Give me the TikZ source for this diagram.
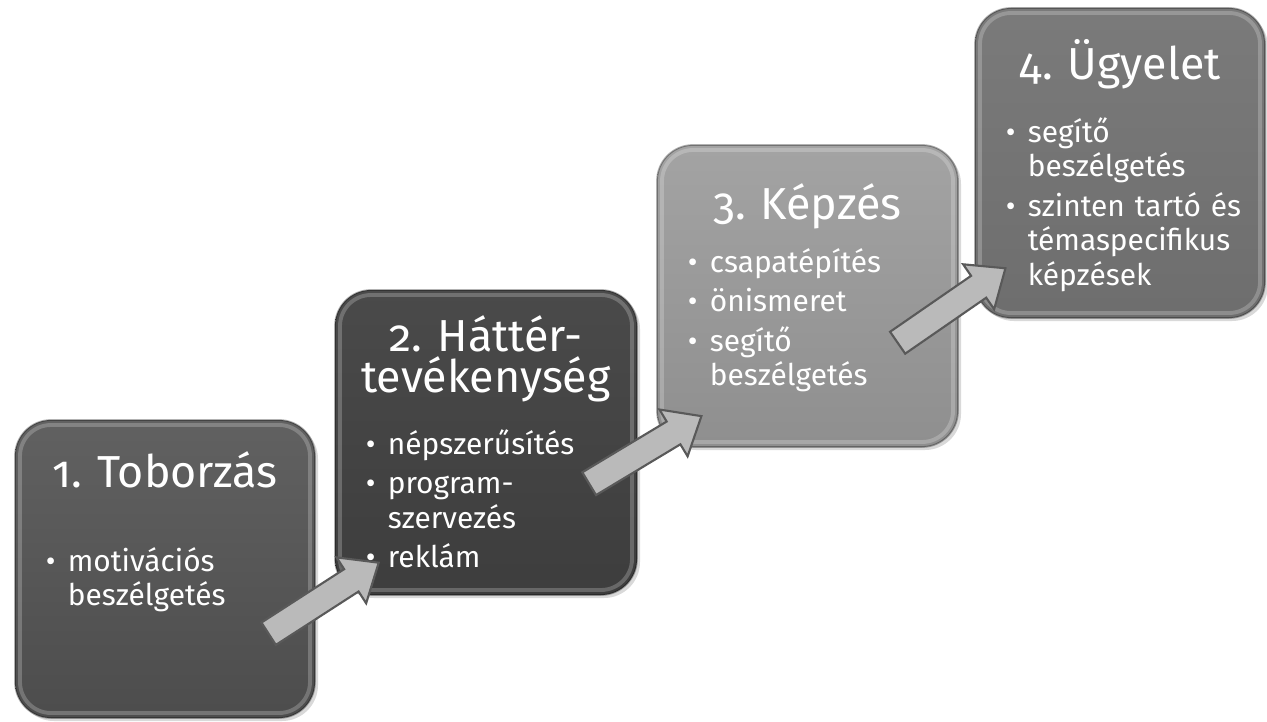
\documentclass[tikz,border=0pt]{standalone}
\usepackage{fontspec}
\setmainfont{Fira Sans}[Numbers=OldStyle]
\frenchspacing
\usepackage{tikz}
\usetikzlibrary{positioning, shapes.arrows, shadows}

\newcommand{\pont}{\makebox[0.44cm][l]{\textbullet}}
\newcommand{\tovabb}{\hspace*{0.44cm}}

\begin{document}
\begin{tikzpicture}[thick]

	\tikzset{
		stage/.style={
				rectangle, rounded corners=0.72cm, draw=black, draw opacity=0.3, line width=1pt, inner sep=0pt,
				drop shadow={shadow xshift=0.06cm, shadow yshift=-0.06cm, opacity=0.3},
				path picture={
						\draw[white, opacity=0.22, line width=2.2pt, rounded corners=0.62cm]
						([shift={(0.1,0.1)}]path picture bounding box.south west) rectangle
						([shift={(-0.1,-0.1)}]path picture bounding box.north east);
					}
			},
		stagetitle/.style={
				text=white, font=\fontsize{25.5}{23.3}\selectfont, text width=6cm, align=center, anchor=base, inner sep=0pt
			},
		stageitems/.style={
				text=white, font=\fontsize{17}{19.6}\selectfont, text width=5.5cm, align=left, anchor=base west, inner sep=0pt
			},
		blockarrow/.style={
				single arrow, draw=black!65, fill=black!27, line width=1.2pt, inner xsep=0pt, inner ysep=0.245cm,
				minimum height=2.62cm, single arrow head extend=0.28cm, single arrow tip angle=80
			},
	}

	\useasboundingbox (0,0) rectangle (25.34,14.42);

	\node[stage, top color=black!62, bottom color=black!70, minimum width=6cm, minimum height=5.96cm](b1) at (3.30,3.04){};
	\node[stage, top color=black!71, bottom color=black!76, minimum width=6.04cm, minimum height=6.1cm](b2) at (9.72,5.57){};
	\node[stage, top color=black!36, bottom color=black!44, minimum width=6.02cm, minimum height=6.04cm](b3) at (16.15,8.50){};
	\node[stage, top color=black!52, bottom color=black!57, minimum width=5.8cm, minimum height=6.2cm](b4) at (22.40,11.16){};

	\node[stagetitle](t1) at ([yshift=-1.36cm]b1.north){1. Toborzás};
	\node[stagetitle](t2) at ([yshift=-1.24cm]b2.north){2. Háttér-\\tevékenység};
	\node[stagetitle](t3) at ([yshift=-1.50cm]b3.north){3. Képzés};
	\node[stagetitle](t4) at ([yshift=-1.44cm]b4.north){4. Ügyelet};

	\node[stageitems](l1) at ([xshift=0.62cm, yshift=-3.04cm]b1.north west){\pont motivációs\\\tovabb beszélgetés};
	\node[stageitems](l2) at ([xshift=0.62cm, yshift=-3.30cm]b2.north west){\pont népszerűsítés\\[3pt]\pont program-\\\tovabb szervezés\\[3pt]\pont reklám};
	\node[stageitems](l3) at ([xshift=0.62cm, yshift=-2.56cm]b3.north west){\pont csapatépítés\\[3pt]\pont önismeret\\[3pt]\pont segítő\\\tovabb beszélgetés};
	\node[stageitems](l4) at ([xshift=0.62cm, yshift=-2.70cm]b4.north west){\pont segítő\\\tovabb beszélgetés\\[3pt]\pont szinten tartó és\\\tovabb témaspecifikus\\\tovabb képzések};

	\coordinate (a1s) at (5.24,1.66);
	\coordinate (a1e) at (7.44,3.08);
	\coordinate (a2s) at (11.64,4.66);
	\coordinate (a2e) at (13.90,6.02);
	\coordinate (a3s) at (17.80,7.46);
	\coordinate (a3e) at (20.00,8.98);

	\path (a1s) -- node[blockarrow, sloped]{} (a1e);
	\path (a2s) -- node[blockarrow, sloped]{} (a2e);
	\path (a3s) -- node[blockarrow, sloped]{} (a3e);
\end{tikzpicture}
\end{document}
